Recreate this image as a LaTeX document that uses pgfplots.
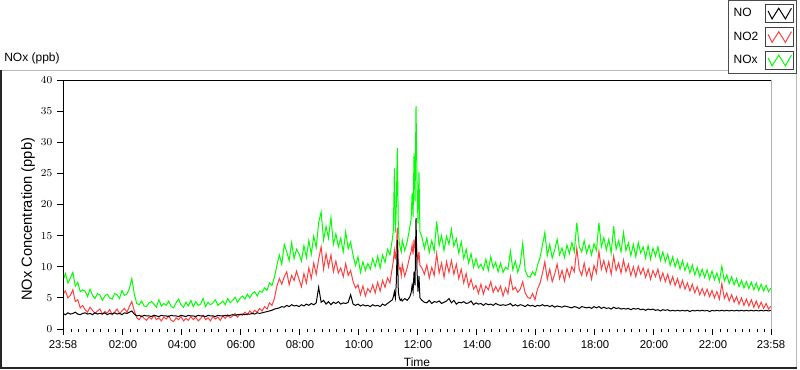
\documentclass[border=0pt]{standalone}
\usepackage{fontspec}
\setmainfont{Liberation Sans}
\usepackage{pgfplots}
\pgfplotsset{compat=1.18}
\usepackage{pgfplotstable}
\definecolor{noxgreen}{RGB}{0,255,0}
\definecolor{no2red}{RGB}{255,64,64}
\pgfplotstableread{
t no no2 nox
0 2.5 5.6 7.8
5 2.3 6.1 8.9
10 2.6 5.0 7.4
15 2.4 5.4 8.2
20 2.5 6.3 9.1
25 2.7 4.4 6.9
30 2.4 4.7 7.5
35 2.3 3.4 6.0
40 2.5 3.8 6.3
45 2.6 3.1 6.1
50 2.4 2.7 5.2
55 2.5 3.5 6.4
60 2.3 3.0 5.4
65 2.6 2.5 4.9
70 2.4 2.9 5.7
75 2.5 3.2 5.5
80 2.4 2.4 4.6
85 2.6 2.8 5.3
90 2.3 2.6 5.6
95 2.5 3.1 5.0
100 2.4 2.3 4.8
105 2.6 2.7 5.7
110 2.4 3.2 5.5
115 2.5 2.5 4.9
120 2.3 2.9 6.2
125 2.6 3.3 5.4
130 2.5 2.7 5.6
135 2.7 3.6 6.5
140 2.9 4.4 8.1
145 2.4 2.9 5.6
150 2.1 1.8 4.1
155 2.2 1.5 3.9
160 2.0 2.1 4.5
165 2.2 1.7 3.7
170 2.1 1.4 3.6
175 2.1 1.9 4.2
180 2.0 1.6 4.4
185 2.2 2.2 4.0
190 2.1 1.5 3.5
195 2.0 1.8 4.7
200 2.2 1.3 3.7
205 2.1 1.9 4.1
210 2.1 1.6 3.8
215 2.0 2.1 4.5
220 2.2 1.4 3.6
225 2.1 1.2 3.4
230 2.1 1.8 4.2
235 2.0 1.5 4.8
240 2.2 2.0 3.9
245 2.1 1.3 3.5
250 2.0 1.7 4.3
255 2.2 1.4 3.7
260 2.1 2.0 4.6
265 2.1 1.5 3.6
270 2.0 1.9 4.4
275 2.2 1.3 3.8
280 2.1 1.7 4.0
285 2.1 2.2 4.9
290 2.0 1.5 3.6
295 2.2 1.8 4.3
300 2.1 1.3 3.9
305 2.1 2.0 4.2
310 2.0 1.6 4.7
315 2.2 1.9 3.8
320 2.1 1.4 4.1
325 2.1 2.1 4.5
330 2.2 1.7 3.9
335 2.1 2.3 4.9
340 2.2 1.8 4.2
345 2.3 2.1 4.6
350 2.2 2.5 5.1
355 2.3 1.9 4.3
360 2.3 2.4 4.9
365 2.4 2.2 5.3
370 2.3 2.7 4.8
375 2.4 2.3 5.6
380 2.4 2.9 5.0
385 2.5 2.5 5.7
390 2.4 3.0 6.0
395 2.6 2.7 5.3
400 2.5 3.3 6.1
405 2.6 2.9 5.9
410 2.7 3.6 6.6
415 2.8 3.2 6.2
420 2.9 4.2 7.4
425 3.0 3.8 7.0
430 3.2 4.9 8.3
435 3.3 6.9 10.2
440 3.4 8.1 11.9
445 3.6 7.2 10.4
450 3.5 8.4 13.6
455 3.8 9.2 12.4
460 3.6 7.1 11.0
465 3.9 8.6 13.9
470 3.7 7.8 11.3
475 3.8 9.3 12.8
480 3.6 8.0 12.1
485 3.9 6.8 10.9
490 3.7 8.9 13.4
495 4.0 7.4 11.5
500 3.8 9.8 14.2
505 4.1 8.1 12.0
510 3.9 10.6 14.9
515 4.2 8.8 13.1
520 6.7 11.2 17.1
525 4.3 13.2 18.8
530 4.6 9.6 14.3
535 4.0 12.1 16.5
540 4.4 10.0 14.6
545 3.9 11.9 17.9
550 4.3 9.2 13.6
555 4.1 10.9 15.3
560 4.4 9.0 13.2
565 4.0 9.8 14.6
570 4.2 8.4 12.4
575 4.1 10.5 15.6
580 4.3 8.6 12.9
585 5.5 9.4 14.0
590 4.0 7.6 11.8
595 3.8 6.6 10.2
600 4.0 7.1 11.6
605 3.7 5.5 9.1
610 3.9 6.9 10.8
615 3.7 5.3 9.4
620 3.8 6.5 10.5
625 3.6 5.9 9.6
630 3.9 7.1 11.3
635 3.7 5.8 10.0
640 3.8 7.5 11.7
645 3.6 6.1 9.8
650 4.0 7.8 11.9
655 3.8 6.7 10.7
660 4.1 8.2 12.8
665 4.4 7.4 11.9
670 4.7 10.0 14.5
672 5.2 11.0 16.0
674 6.0 12.6 25.8
676 5.0 11.2 15.5
678 7.5 13.0 20.0
680 14.3 16.3 29.1
682 6.0 11.0 16.4
684 5.0 9.6 13.8
686 4.6 9.8 13.0
688 4.8 8.6 12.4
690 4.5 10.4 14.3
695 4.9 8.5 12.6
700 4.6 9.8 14.0
705 5.1 11.6 16.2
708 5.8 12.4 17.6
710 7.0 13.5 21.8
712 6.0 12.0 18.0
714 9.2 14.4 28.2
716 7.0 12.8 20.5
718 17.8 13.7 35.8
720 9.5 12.2 24.0
722 6.0 11.0 17.0
724 8.5 12.4 25.2
726 5.0 10.2 15.6
730 4.6 9.8 14.8
735 4.3 8.8 12.9
740 4.2 10.3 14.6
745 4.6 8.2 12.3
750 4.1 9.9 14.2
755 4.4 8.6 12.5
760 4.3 12.1 17.3
765 4.5 9.0 13.4
770 4.1 10.6 15.0
775 4.3 8.3 12.6
780 4.5 10.8 14.9
785 4.9 9.1 13.6
790 4.2 11.0 16.0
795 4.6 8.8 13.3
800 4.0 10.4 14.5
805 4.3 8.1 12.2
810 4.2 9.6 14.0
815 4.4 7.4 11.3
820 4.1 8.9 12.8
825 4.2 6.8 10.6
830 4.5 8.0 12.1
835 3.9 6.4 9.9
840 4.2 7.0 11.3
845 4.0 5.7 9.8
850 4.1 7.2 10.4
855 3.8 5.6 9.5
860 4.1 6.9 11.2
865 3.9 6.3 9.4
870 4.0 7.6 11.6
875 3.8 5.9 9.8
880 4.1 6.8 10.7
885 3.9 6.0 9.2
890 3.8 6.9 10.6
895 3.9 5.3 9.1
900 3.8 6.6 9.9
905 3.9 5.7 9.6
910 4.1 8.4 12.5
915 3.7 6.3 9.5
920 3.9 6.7 10.9
925 3.7 5.9 9.1
930 3.9 6.4 10.5
935 3.8 7.6 13.8
940 3.6 5.8 9.4
945 3.9 5.1 8.5
950 3.7 4.9 8.3
955 3.8 5.7 9.2
960 3.6 4.7 8.6
965 3.8 6.4 10.2
970 3.7 7.3 11.4
975 3.9 8.9 13.4
980 3.7 10.8 15.5
985 3.8 8.0 11.8
990 3.6 9.6 13.6
995 3.8 7.6 11.4
1000 3.5 8.8 12.7
1005 3.7 10.4 14.4
1010 3.6 8.1 11.9
1015 3.5 9.4 13.0
1020 3.7 7.7 11.5
1025 3.6 9.7 13.5
1030 3.5 8.4 12.1
1035 3.4 10.0 13.9
1040 3.6 9.2 12.4
1045 3.5 13.0 17.1
1050 3.3 9.6 13.2
1055 3.6 8.6 12.4
1060 3.5 10.6 14.2
1065 3.4 8.6 12.2
1070 3.5 9.8 13.5
1075 3.3 8.0 11.9
1080 3.6 10.2 13.7
1085 3.4 9.0 12.6
1090 3.6 12.5 17.1
1095 3.3 9.6 13.2
1100 3.5 11.0 14.7
1105 3.3 9.2 12.7
1110 3.4 10.8 14.4
1115 3.2 8.8 12.2
1120 3.5 11.7 16.5
1125 3.3 9.4 12.8
1130 3.4 10.6 14.2
1135 3.2 9.0 12.4
1140 3.3 11.1 15.5
1145 3.2 9.2 12.6
1150 3.3 10.4 13.8
1155 3.1 8.6 11.8
1160 3.3 10.0 13.6
1165 3.2 8.4 11.6
1170 3.3 10.1 13.9
1175 3.1 8.8 12.2
1180 3.2 9.8 13.2
1185 3.0 8.3 11.4
1190 3.2 9.6 13.4
1195 3.1 8.0 11.2
1200 3.2 9.4 13.0
1205 3.0 8.4 11.7
1210 3.1 9.6 13.2
1215 2.9 7.8 11.0
1220 3.1 9.0 12.4
1225 3.0 7.6 10.8
1230 3.1 8.8 12.0
1235 2.9 7.2 10.2
1240 3.0 8.4 11.6
1245 2.9 7.0 10.0
1250 3.0 8.1 11.2
1255 2.9 6.6 9.6
1260 3.0 7.8 11.0
1265 2.9 6.4 9.4
1270 3.0 7.4 10.5
1275 2.8 6.1 9.0
1280 3.0 7.2 10.3
1285 2.9 5.8 8.7
1290 3.0 6.8 9.9
1295 2.9 5.5 8.4
1300 3.0 6.5 9.6
1305 2.9 5.4 8.3
1310 3.0 6.4 9.5
1315 2.8 5.2 8.0
1320 3.0 6.2 9.3
1325 2.9 5.0 7.9
1330 3.0 6.0 9.0
1335 2.9 4.8 7.6
1340 3.0 7.3 10.1
1345 2.9 4.9 7.7
1350 3.0 5.8 8.7
1355 2.9 4.5 7.3
1360 3.0 5.5 8.4
1365 2.9 4.3 7.1
1370 3.0 5.2 8.1
1375 2.9 4.0 6.8
1380 3.0 5.0 7.8
1385 2.9 3.8 6.6
1390 3.0 4.8 7.6
1395 2.9 3.7 6.5
1400 3.0 4.7 7.5
1405 2.9 3.5 6.3
1410 3.0 4.5 7.4
1415 2.9 3.4 6.2
1420 3.0 4.3 7.2
1425 2.9 3.3 6.1
1430 3.0 4.1 7.0
1435 2.9 3.2 6.0
1440 3.0 3.7 6.6
}\datatable
\begin{document}
\begin{tikzpicture}
\useasboundingbox (0pt,0pt) rectangle (600pt,276.75pt);
\fill[white] (0pt,0pt) rectangle (600pt,276.75pt);
\draw[gray!55, line width=0.75pt] (0.5pt,224.25pt) -- (597.4pt,224.25pt) -- (597.4pt,1pt);
\draw[gray!30!black, line width=1.2pt] (0.6pt,224.25pt) -- (0.6pt,0.6pt) -- (597.4pt,0.6pt);
\node[anchor=west, font=\fontsize{9}{11}\selectfont, text=black, inner sep=0pt] at (3pt,233.25pt) {NOx (ppb)};
\begin{axis}[
  at={(47.25pt,30pt)}, anchor=south west,
  scale only axis, width=531pt, height=186.75pt,
  xmin=0, xmax=1440, ymin=0, ymax=40,
  axis line style={draw=none},
  clip mode=individual,
  xtick={0,122,242,362,482,602,722,842,962,1082,1202,1322,1440},
  xticklabels={23:58,02:00,04:00,06:00,08:00,10:00,12:00,14:00,16:00,18:00,20:00,22:00,23:58},
  minor xtick={17,32,...,1427},
  ytick={0,5,...,40},
  tick align=outside, tick pos=left,
  major tick length=4.5pt, minor tick length=2.25pt,
  every tick/.style={black, line width=0.75pt},
  tick label style={font=\fontsize{8.5}{10}\selectfont},
  xticklabel style={yshift=-1pt},
  xlabel={Time}, ylabel={NOx Concentration (ppb)},
  xlabel style={font=\fontsize{9}{11}\selectfont, at={(axis description cs:0.5,-0.1325)}, anchor=center},
  ylabel style={font=\fontsize{11}{13}\selectfont, at={(axis description cs:-0.0494,0.44)}, anchor=center},
  reverse legend,
  legend plot pos=right,
  legend cell align=left,
  legend style={at={(axis description cs:1.0367,1.3213)}, anchor=north east,
    draw=gray!60!black, line width=0.75pt, fill=white,
    font=\fontsize{9}{11}\selectfont, inner xsep=2pt, inner ysep=2.5pt,
    row sep=3pt, /tikz/every odd column/.append style={column sep=3pt}},
  legend image code/.code={
    \draw[draw=gray!50!black, line width=0.6pt, fill=white, solid] (0pt,-7pt) rectangle (21pt,7pt);
    \draw[#1] (2pt,2pt) -- (5pt,-4pt) -- (10pt,4pt) -- (15pt,-4pt) -- (19.5pt,4pt);
  },
]
\addplot[noxgreen, line width=0.75pt] table[x=t, y=nox] {\datatable};
\addlegendentry{NOx}
\addplot[no2red, line width=0.75pt] table[x=t, y=no2] {\datatable};
\addlegendentry{NO2}
\addplot[black, line width=0.75pt] table[x=t, y=no] {\datatable};
\addlegendentry{NO}
\draw[black, line width=0.75pt] (rel axis cs:0,0) -- (rel axis cs:0,1) -- (rel axis cs:1,1);
\draw[gray!60, line width=0.75pt] (rel axis cs:1,1) -- (rel axis cs:1,0);
\end{axis}
\end{tikzpicture}
\end{document}
